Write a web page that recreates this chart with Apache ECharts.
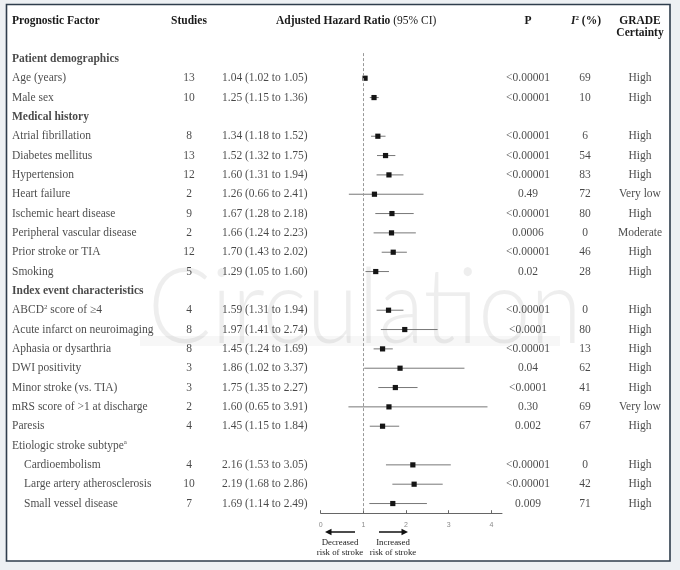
<!DOCTYPE html>
<html><head><meta charset="utf-8">
<script src="https://cdn.jsdelivr.net/npm/echarts@6/dist/echarts.min.js"></script>
<style>html,body{margin:0;padding:0;background:#edf0f3}#c{width:680px;height:570px}</style>
</head><body><div id="c"></div>
<script>
// ---- data (one entry per table row) ----
const factors = [
  "Patient demographics","Age (years)","Male sex",
  "Medical history","Atrial fibrillation","Diabetes mellitus","Hypertension","Heart failure",
  "Ischemic heart disease","Peripheral vascular disease","Prior stroke or TIA","Smoking",
  "Index event characteristics","ABCD{sup|2} score of \u22654","Acute infarct on neuroimaging",
  "Aphasia or dysarthria","DWI positivity","Minor stroke (vs. TIA)","mRS score of >1 at discharge",
  "Paresis","Etiologic stroke subtype{sup|a}","Cardioembolism","Large artery atherosclerosis","Small vessel disease"
];
const sectionRows = [0, 3, 12];
const indentRows = [21, 22, 23];
const studies = [null,13,10,null,8,13,12,2,9,2,12,5,null,4,8,8,3,3,2,4,null,4,10,7];
const hazardRatio = [null,1.04,1.25,null,1.34,1.52,1.60,1.26,1.67,1.66,1.70,1.29,null,1.59,1.97,1.45,1.86,1.75,1.60,1.45,null,2.16,2.19,1.69];
const ciLow  = [null,1.02,1.15,null,1.18,1.32,1.31,0.66,1.28,1.24,1.43,1.05,null,1.31,1.41,1.24,1.02,1.35,0.65,1.15,null,1.53,1.68,1.14];
const ciHigh = [null,1.05,1.36,null,1.52,1.75,1.94,2.41,2.18,2.23,2.02,1.60,null,1.94,2.74,1.69,3.37,2.27,3.91,1.84,null,3.05,2.86,2.49];
const pValues = [null,"<0.00001","<0.00001",null,"<0.00001","<0.00001","<0.00001","0.49","<0.00001","0.0006","<0.00001","0.02",
  null,"<0.00001","<0.0001","<0.00001","0.04","<0.0001","0.30","0.002",null,"<0.00001","<0.00001","0.009"];
const i2 = [null,69,10,null,6,54,83,72,80,0,46,28,null,0,80,13,62,41,69,67,null,0,42,71];
const grade = [null,"High","High",null,"High","High","High","Very low","High","Moderate","High","High",
  null,"High","High","High","High","High","Very low","High",null,"High","High","High"];
const axisTicks = [0,1,2,3,4];
const nullEffect = 1;

// ---- layout ----
const SERIF = "'Liberation Serif','Times New Roman',serif";
const FS = 11.5;
const TXT = '#1a1a1a';
const gridTop = 53.1, gridHeight = 460.1;
const yMin = -0.3, yMax = 23.5;

const chart = echarts.init(document.getElementById('c'), null, {renderer:'canvas'});

function textSeries(texts, xPosFn, align, fmt) {
  const data = [];
  texts.forEach((t, i) => { if (t !== null && t !== undefined) data.push({value:[xPosFn(i), i], name:String(t)}); });
  return {
    type:'scatter', xAxisIndex:1, yAxisIndex:1, symbolSize:0.01, silent:true, animation:false, z:5,
    data,
    label:{
      show:true, position: align === 'left' ? 'right' : 'inside', distance:0,
      color:TXT, fontFamily:SERIF, fontSize:FS,
      formatter: fmt || (p => p.name),
      rich:{
        b:{fontWeight:'bold', fontFamily:SERIF, fontSize:FS, color:TXT},
        sup:{fontSize:7, fontFamily:SERIF, color:TXT, verticalAlign:'top', padding:[0,0,6,0]}
      }
    },
    emphasis:{disabled:true}
  };
}

const forestData = [];
hazardRatio.forEach((h, i) => { if (h !== null) forestData.push([h, i, ciLow[i], ciHigh[i]]); });

const hrTexts = hazardRatio.map((h, i) => h === null ? null :
  h.toFixed(2) + ' (' + ciLow[i].toFixed(2) + ' to ' + ciHigh[i].toFixed(2) + ')');

const option = {
  backgroundColor:'#edf0f3',
  animation:false,
  grid:[
    {left:320.7, width:181.3, top:gridTop, height:gridHeight},
    {left:0, width:680, top:gridTop, height:gridHeight}
  ],
  xAxis:[
    {gridIndex:0, type:'value', position:'bottom', min:0, max:4.25, interval:1,
     axisLine:{show:true, onZero:false, lineStyle:{color:'#666', width:1}},
     axisTick:{show:true, inside:true, length:3, lineStyle:{color:'#666'}, customValues:axisTicks},
     axisLabel:{show:true, fontSize:7, color:'#8a8a8a', margin:8, fontFamily:"'Liberation Sans',Arial,sans-serif", customValues:axisTicks},
     splitLine:{show:false}},
    {gridIndex:1, type:'value', min:0, max:680, show:false}
  ],
  yAxis:[
    {gridIndex:0, type:'value', min:yMin, max:yMax, inverse:true, show:false},
    {gridIndex:1, type:'value', min:yMin, max:yMax, inverse:true, show:false}
  ],
  graphic:[
    {type:'rect', z:-10, shape:{x:6.5, y:4.5, width:663.5, height:556.5},
     style:{fill:'#ffffff', stroke:'#2f3d4c', lineWidth:1.6}},
    {type:'text', z:-5, x:148, y:309, scaleX:0.9,
     style:{text:'Circulation', fontFamily:'Lato', fontWeight:300, fontSize:104, fill:'rgba(0,0,0,0.065)', verticalAlign:'middle'}},
    {type:'rect', z:-5, shape:{x:140, y:336, width:420, height:10}, style:{fill:'rgba(0,0,0,0.03)'}},
    // headers
    {type:'text', style:{text:'Prognostic Factor', x:12, y:20.7, verticalAlign:'middle', fontFamily:SERIF, fontWeight:'bold', fontSize:FS, fill:TXT}},
    {type:'text', style:{text:'Studies', x:189, y:20.7, align:'center', verticalAlign:'middle', fontFamily:SERIF, fontWeight:'bold', fontSize:FS, fill:TXT}},
    {type:'text', style:{text:'{b|Adjusted Hazard Ratio} (95% CI)', x:276, y:20.7, verticalAlign:'middle', fontFamily:SERIF, fontSize:FS, fill:TXT,
      rich:{b:{fontFamily:SERIF, fontWeight:'bold', fontSize:FS, fill:TXT}}}},
    {type:'text', style:{text:'P', x:528, y:20.7, align:'center', verticalAlign:'middle', fontFamily:SERIF, fontWeight:'bold', fontSize:FS, fill:TXT}},
    {type:'text', style:{text:'{i|I}{s|2} (%)', x:586, y:20.7, align:'center', verticalAlign:'middle', fontFamily:SERIF, fontWeight:'bold', fontSize:FS, fill:TXT,
      rich:{i:{fontFamily:SERIF, fontStyle:'italic', fontWeight:'bold', fontSize:FS, fill:TXT},
            s:{fontFamily:SERIF, fontWeight:'bold', fontSize:7, fill:TXT, verticalAlign:'top', padding:[0,0,6,0]}}}},
    {type:'text', style:{text:'GRADE', x:640, y:20.7, align:'center', verticalAlign:'middle', fontFamily:SERIF, fontWeight:'bold', fontSize:FS, fill:TXT}},
    {type:'text', style:{text:'Certainty', x:640, y:33.5, align:'center', verticalAlign:'middle', fontFamily:SERIF, fontWeight:'bold', fontSize:FS, fill:TXT}},
    // arrows
    {type:'polyline', shape:{points:[[355,532],[330,532]]}, style:{stroke:'#111', lineWidth:1.5}},
    {type:'polygon', shape:{points:[[325,532],[331.5,528.8],[331.5,535.2]]}, style:{fill:'#111'}},
    {type:'polyline', shape:{points:[[379,532],[403,532]]}, style:{stroke:'#111', lineWidth:1.5}},
    {type:'polygon', shape:{points:[[408,532],[401.5,528.8],[401.5,535.2]]}, style:{fill:'#111'}},
    {type:'text', style:{text:'Decreased', x:340, y:542.7, align:'center', verticalAlign:'middle', fontFamily:SERIF, fontSize:8.8, fill:TXT}},
    {type:'text', style:{text:'risk of stroke', x:340, y:552.7, align:'center', verticalAlign:'middle', fontFamily:SERIF, fontSize:8.8, fill:TXT}},
    {type:'text', style:{text:'Increased', x:393, y:542.7, align:'center', verticalAlign:'middle', fontFamily:SERIF, fontSize:8.8, fill:TXT}},
    {type:'text', style:{text:'risk of stroke', x:393, y:552.7, align:'center', verticalAlign:'middle', fontFamily:SERIF, fontSize:8.8, fill:TXT}}
  ],
  series:[
    {
      type:'custom', xAxisIndex:0, yAxisIndex:0, silent:true, z:4,
      data:forestData,
      renderItem:(params, api) => {
        const row = api.value(1);
        const c = api.coord([api.value(0), row]);
        const l = api.coord([api.value(2), row]);
        const h = api.coord([api.value(3), row]);
        return {type:'group', children:[
          {type:'line', shape:{x1:l[0], y1:c[1], x2:h[0], y2:c[1]}, style:{stroke:'#777', lineWidth:1}},
          {type:'rect', shape:{x:c[0]-2.6, y:c[1]-2.6, width:5.2, height:5.2}, style:{fill:'#151515'}}
        ]};
      },
      markLine:{
        silent:true, symbol:['none','none'], label:{show:false},
        lineStyle:{type:[3,2], color:'#999', width:1},
        data:[{xAxis:nullEffect}]
      }
    },
    textSeries(factors, i => indentRows.includes(i) ? 24 : 12, 'left',
      p => sectionRows.includes(p.value[1]) ? '{b|' + p.name + '}' : p.name),
    textSeries(studies, () => 189, 'center'),
    textSeries(hrTexts, () => 222, 'left'),
    textSeries(pValues, () => 528, 'center'),
    textSeries(i2, () => 585, 'center'),
    textSeries(grade, () => 640, 'center')
  ]
};
chart.setOption(option);
</script>
</body></html>
